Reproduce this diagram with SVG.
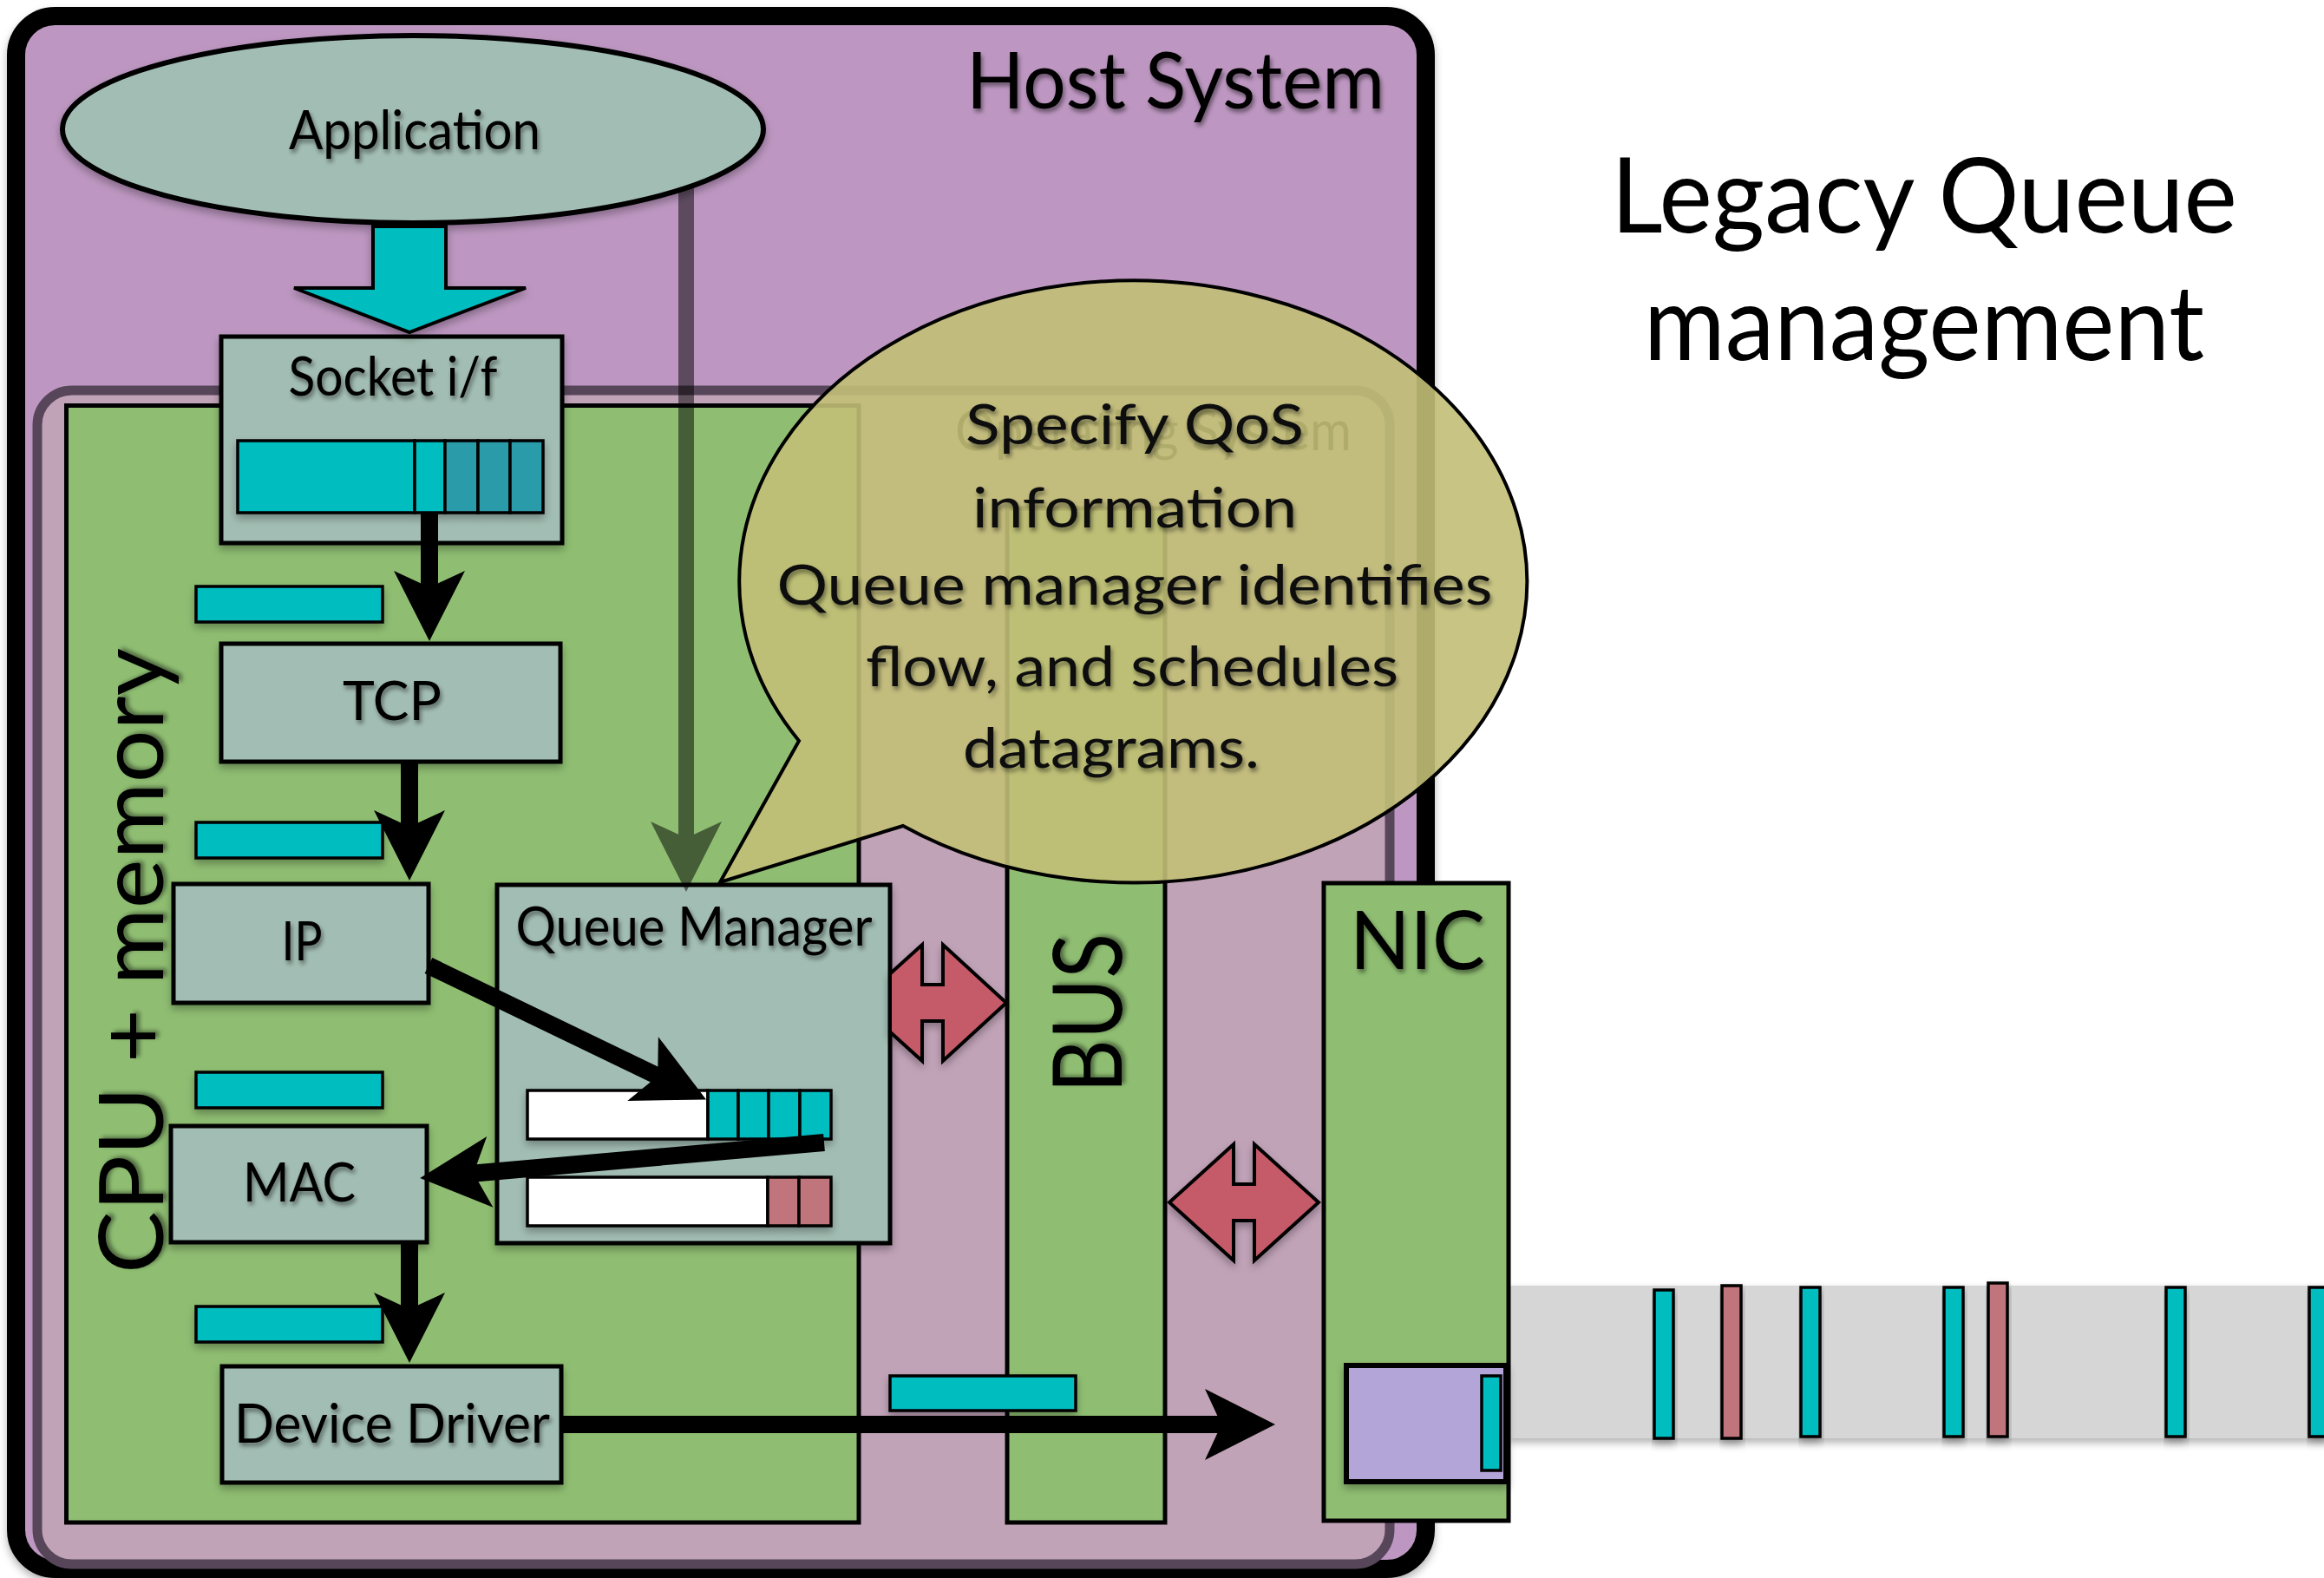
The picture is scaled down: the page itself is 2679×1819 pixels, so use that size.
<svg xmlns="http://www.w3.org/2000/svg" width="2679" height="1819" viewBox="0 0 2679 1819">
  <defs>
    <style>
      text { font-family: Lato, "Open Sans", "Liberation Sans", sans-serif; fill: #000; }
      .lbl { font-size: 61px; filter: url(#textShadow); }
      .bubbleTxt { font-size: 64px; fill: #111; filter: url(#textShadow); }
      .box { fill: #A2BDB3; stroke: #000; stroke-width: 5; filter: url(#boxShadow); }
      .green { fill: #8FBE72; stroke: #000; stroke-width: 5; }
      .pkt { fill: #00BDC0; stroke: #000; stroke-width: 3.5; }
      .teal { fill: #2B9BA9; stroke: #000; stroke-width: 3.5; }
      .pink { fill: #C0757D; stroke: #000; stroke-width: 3.5; }
      .white { fill: #FFFFFF; stroke: #000; stroke-width: 3.5; }
      .bar { stroke: #000; stroke-width: 3.5; filter: url(#boxShadow); }
      .flow { stroke: #000; stroke-width: 20; fill: none; marker-end: url(#notch); }
      .dbl { fill: #C55A68; stroke: #000; stroke-width: 4; filter: url(#boxShadow); }
    </style>
    <filter id="textShadow" x="-10%" y="-30%" width="130%" height="170%">
      <feDropShadow dx="2" dy="4" stdDeviation="2.5" flood-color="#000" flood-opacity="0.45"/>
    </filter>
    <filter id="boxShadow" x="-10%" y="-10%" width="130%" height="130%">
      <feDropShadow dx="0" dy="5" stdDeviation="5" flood-color="#000" flood-opacity="0.3"/>
    </filter>
    <!-- notched arrowhead; tip sits 40px beyond the line end -->
    <marker id="notch" markerUnits="userSpaceOnUse" orient="auto" refX="0" refY="0" markerWidth="200" markerHeight="200" overflow="visible">
      <path d="M40,0 L-41,-41 L-22,0 L-41,41 Z" fill="#000"/>
    </marker>
  </defs>

  <!-- Host system enclosure -->
  <g id="host">
    <rect x="18.5" y="18.5" width="1625" height="1790" rx="45" fill="#BD97C1" stroke="#000" stroke-width="21" filter="url(#boxShadow)"/>
    <text x="1596" y="125" font-size="91" text-anchor="end" textLength="482" lengthAdjust="spacingAndGlyphs" filter="url(#textShadow)">Host System</text>
  </g>

  <!-- Operating system region -->
  <g id="os">
    <rect x="43" y="450" width="1559" height="1353" rx="40" fill="#C1A3B8" stroke="#57465A" stroke-width="11"/>
    <text x="1558" y="519" font-size="63" text-anchor="end" textLength="457" lengthAdjust="spacingAndGlyphs" fill="#3B2E3B">Operating System</text>
  </g>

  <!-- CPU + memory -->
  <g id="cpu">
    <rect class="green" x="76.5" y="467.5" width="913.5" height="1287.5"/>
    <text transform="translate(188,1468) rotate(-90)" font-size="103" textLength="721" lengthAdjust="spacingAndGlyphs" filter="url(#textShadow)">CPU + memory</text>
  </g>

  <!-- BUS -->
  <g id="bus">
    <rect class="green" x="1161" y="586" width="182" height="1169"/>
    <text transform="translate(1293,1260) rotate(-90)" font-size="110" textLength="184" lengthAdjust="spacingAndGlyphs" filter="url(#textShadow)">BUS</text>
  </g>

  <!-- Wire with datagrams in flight -->
  <g id="wire">
    <rect x="1739" y="1482" width="945" height="176" fill="#D6D6D6" filter="url(#boxShadow)"/>
    <rect class="bar" x="1907" y="1487" width="22" height="171" fill="#00BDC0"/>
    <rect class="bar" x="1985" y="1482" width="22" height="176" fill="#C0757D"/>
    <rect class="bar" x="2076" y="1484" width="22" height="172" fill="#00BDC0"/>
    <rect class="bar" x="2241" y="1484" width="22" height="172" fill="#00BDC0"/>
    <rect class="bar" x="2292" y="1479" width="22" height="177" fill="#C0757D"/>
    <rect class="bar" x="2497" y="1484" width="22" height="172" fill="#00BDC0"/>
    <rect class="bar" x="2662" y="1484" width="22" height="172" fill="#00BDC0"/>
  </g>

  <!-- NIC -->
  <g id="nic">
    <rect class="green" x="1526" y="1018" width="213" height="735"/>
    <text x="1634" y="1117" font-size="94" text-anchor="middle" textLength="156" lengthAdjust="spacingAndGlyphs" filter="url(#textShadow)">NIC</text>
    <rect x="1552" y="1574" width="184" height="134" fill="#B3A5D8" stroke="#000" stroke-width="6" filter="url(#boxShadow)"/>
    <rect class="pkt" x="1708" y="1586" width="22" height="109"/>
  </g>

  <!-- Application -->
  <g id="application">
    <ellipse cx="476" cy="149" rx="404" ry="108" fill="#A2BDB3" stroke="#000" stroke-width="6" filter="url(#boxShadow)"/>
    <text class="lbl" x="478" y="172" text-anchor="middle" textLength="290" lengthAdjust="spacingAndGlyphs">Application</text>
  </g>

  <!-- Socket interface -->
  <g id="socket">
    <rect class="box" x="255" y="388" width="393" height="238"/>
    <text class="lbl" x="453" y="456" text-anchor="middle" font-size="59" textLength="241" lengthAdjust="spacingAndGlyphs">Socket i/f</text>
    <g filter="url(#boxShadow)">
      <rect class="pkt" x="274" y="508" width="204" height="83"/>
      <rect class="pkt" x="478" y="508" width="35" height="83"/>
      <rect class="teal" x="513" y="508" width="38" height="83"/>
      <rect class="teal" x="551" y="508" width="37" height="83"/>
      <rect class="teal" x="588" y="508" width="38" height="83"/>
    </g>
  </g>

  <!-- TCP -->
  <g id="tcp">
    <rect class="box" x="255" y="742" width="391" height="136"/>
    <text class="lbl" x="452" y="830" text-anchor="middle" textLength="114" lengthAdjust="spacingAndGlyphs">TCP</text>
  </g>

  <!-- IP -->
  <g id="ip">
    <rect class="box" x="200" y="1019" width="294" height="137"/>
    <text class="lbl" x="348" y="1107" text-anchor="middle" textLength="47" lengthAdjust="spacingAndGlyphs">IP</text>
  </g>

  <!-- MAC -->
  <g id="mac">
    <rect class="box" x="197" y="1298" width="295" height="134"/>
    <text class="lbl" x="345" y="1385" text-anchor="middle" textLength="130" lengthAdjust="spacingAndGlyphs">MAC</text>
  </g>

  <!-- Device driver -->
  <g id="driver">
    <rect class="box" x="256" y="1575" width="391" height="134"/>
    <text class="lbl" x="452" y="1663" text-anchor="middle" textLength="364" lengthAdjust="spacingAndGlyphs">Device Driver</text>
  </g>

  <!-- Queue manager with two per-flow queues -->
  <g id="queue-manager">
    <rect class="box" x="573" y="1020" width="453" height="413"/>
    <text class="lbl" x="800" y="1090" text-anchor="middle" textLength="411" lengthAdjust="spacingAndGlyphs">Queue Manager</text>
    <g filter="url(#boxShadow)">
      <rect class="white" x="608" y="1257" width="208" height="56"/>
      <rect class="pkt" x="816" y="1257" width="35" height="56"/>
      <rect class="pkt" x="851" y="1257" width="35" height="56"/>
      <rect class="pkt" x="886" y="1257" width="36" height="56"/>
      <rect class="pkt" x="922" y="1257" width="36" height="56"/>
      <rect class="white" x="608" y="1357" width="277" height="56"/>
      <rect class="pink" x="885" y="1357" width="36" height="56"/>
      <rect class="pink" x="921" y="1357" width="37" height="56"/>
    </g>
  </g>

  <!-- Datagrams between layers -->
  <g id="packets" filter="url(#boxShadow)">
    <rect class="pkt" x="226" y="676" width="215" height="41"/>
    <rect class="pkt" x="226" y="948" width="215" height="41"/>
    <rect class="pkt" x="226" y="1236" width="215" height="41"/>
    <rect class="pkt" x="226" y="1506" width="215" height="41"/>
    <rect class="pkt" x="1026" y="1586" width="214" height="40"/>
  </g>

  <!-- Connectors -->
  <g id="connectors">
    <!-- application hands data to the socket -->
    <polygon points="430,261 514,261 514,332 606,332 472,383 339,332 430,332" fill="#00BDC0" stroke="#000" stroke-width="4" stroke-linejoin="miter" filter="url(#boxShadow)"/>
    <!-- application QoS hint to the queue manager -->
    <g opacity="0.5">
      <line x1="791" y1="217" x2="791" y2="988" stroke="#000" stroke-width="18" marker-end="url(#notch)"/>
    </g>
    <line class="flow" x1="495" y1="591" x2="495" y2="699"/>
    <line class="flow" x1="472" y1="878" x2="472" y2="975"/>
    <line class="flow" x1="494" y1="1113" x2="778" y2="1250"/>
    <line class="flow" x1="950" y1="1317" x2="524" y2="1354.5"/>
    <line class="flow" x1="472" y1="1433" x2="472" y2="1531"/>
    <line class="flow" x1="647" y1="1642" x2="1430" y2="1642"/>
    <!-- bidirectional links: queue manager to bus, bus to NIC -->
    <polygon class="dbl" points="1026,1122.5 1063,1089 1063,1135 1087,1135 1087,1089 1160,1156 1087,1223 1087,1177 1063,1177 1063,1223 1026,1189.5"/>
    <polygon class="dbl" points="1348,1386 1422,1319 1422,1365 1446,1365 1446,1319 1520,1386 1446,1453 1446,1407 1422,1407 1422,1453"/>
  </g>

  <!-- Callout -->
  <g id="callout">
    <path d="M921,854 L830,1017 L1041,952 A454 347 0 1 0 921,854 Z" fill="#C2BF77" fill-opacity="0.9" stroke="#000" stroke-width="4" stroke-linejoin="miter"/>
    <text class="bubbleTxt" x="1308" y="512" text-anchor="middle" textLength="390" lengthAdjust="spacingAndGlyphs">Specify QoS</text>
    <text class="bubbleTxt" x="1308" y="608" text-anchor="middle" textLength="374" lengthAdjust="spacingAndGlyphs">information</text>
    <text class="bubbleTxt" x="1308" y="697" text-anchor="middle" textLength="825" lengthAdjust="spacingAndGlyphs">Queue manager identifies</text>
    <text class="bubbleTxt" x="1305" y="791" text-anchor="middle" textLength="614" lengthAdjust="spacingAndGlyphs">flow, and schedules</text>
    <text class="bubbleTxt" x="1281" y="885" text-anchor="middle" textLength="342" lengthAdjust="spacingAndGlyphs">datagrams.</text>
  </g>

  <!-- Slide title -->
  <g id="title">
    <text x="2218" y="268" font-size="121" text-anchor="middle" textLength="722" lengthAdjust="spacingAndGlyphs">Legacy Queue</text>
    <text x="2218" y="415" font-size="121" text-anchor="middle" textLength="646" lengthAdjust="spacingAndGlyphs">management</text>
  </g>
</svg>
